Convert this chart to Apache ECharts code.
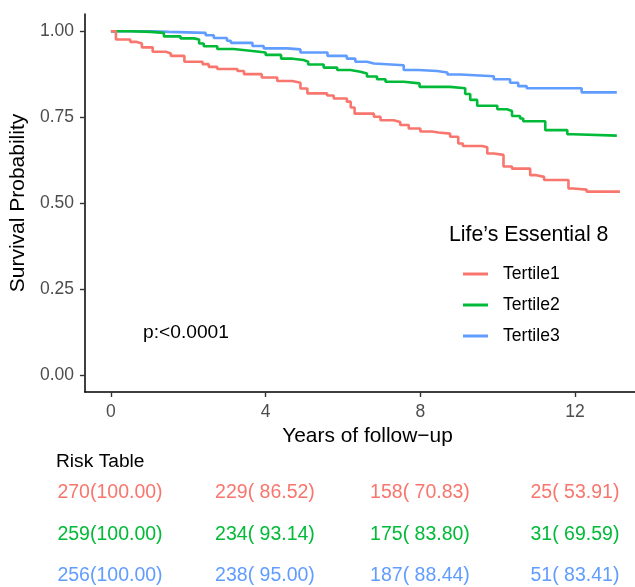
<!DOCTYPE html>
<html>
<head>
<meta charset="utf-8">
<script src="https://cdn.jsdelivr.net/npm/echarts@6/dist/echarts.min.js"></script>
<style>html,body{margin:0;padding:0;background:#fff}#c{width:635px;height:587px}</style>
</head>
<body>
<div id="c"></div>
<script>
// ---- Data ----
const groups = ['Tertile1', 'Tertile2', 'Tertile3'];
const colors = ['#F8766D', '#00BA38', '#619CFF'];

const t1Time = [0, 0.13, 0.5, 0.65, 0.8, 1.08, 1.42, 1.55, 1.9, 2.37, 2.53, 2.75, 3.27, 3.44, 3.9, 4.3, 4.69, 4.9, 5.08, 5.59, 5.76, 6.1, 6.2, 6.3, 6.8, 6.97, 7.31, 7.48, 7.7, 8.0, 8.3, 8.47, 8.77, 8.98, 9.1, 9.6, 9.73, 9.9, 10.15, 10.37, 10.84, 11.0, 11.2, 11.83, 11.95, 12.3, 13.16];
const t1Surv = [1.0, 0.976, 0.969, 0.964, 0.953, 0.94, 0.935, 0.928, 0.911, 0.904, 0.896, 0.89, 0.884, 0.875, 0.865, 0.855, 0.85, 0.833, 0.819, 0.813, 0.804, 0.795, 0.778, 0.76, 0.751, 0.741, 0.736, 0.727, 0.717, 0.708, 0.705, 0.702, 0.693, 0.673, 0.666, 0.662, 0.644, 0.64, 0.606, 0.60, 0.581, 0.576, 0.567, 0.542, 0.539, 0.533, 0.533];

const t2Time = [0, 0.5, 1.03, 1.37, 1.8, 2.15, 2.28, 2.4, 2.75, 3.17, 3.6, 4.0, 4.4, 4.7, 4.98, 5.1, 5.5, 5.85, 6.19, 6.45, 6.62, 6.88, 7.1, 7.57, 7.98, 8.77, 9.16, 9.29, 9.47, 9.99, 10.24, 10.37, 10.58, 10.66, 11.23, 11.8, 11.95, 13.08];
const t2Surv = [1.0, 0.998, 0.995, 0.985, 0.979, 0.976, 0.964, 0.956, 0.948, 0.943, 0.938, 0.931, 0.92, 0.916, 0.911, 0.903, 0.894, 0.887, 0.882, 0.877, 0.868, 0.86, 0.853, 0.848, 0.838, 0.834, 0.817, 0.80, 0.783, 0.773, 0.768, 0.753, 0.746, 0.738, 0.712, 0.70, 0.696, 0.696];

const t3Time = [0, 1.03, 1.5, 2.45, 2.66, 3.0, 3.1, 3.66, 3.95, 4.56, 4.9, 5.6, 6.1, 6.32, 6.62, 6.8, 7.57, 7.95, 8.43, 8.7, 9.03, 9.9, 10.32, 10.53, 10.75, 12.17, 13.08];
const t3Surv = [1.0, 0.998, 0.995, 0.988, 0.98, 0.972, 0.966, 0.957, 0.95, 0.947, 0.938, 0.928, 0.92, 0.911, 0.906, 0.901, 0.887, 0.884, 0.88, 0.874, 0.869, 0.86, 0.85, 0.84, 0.834, 0.822, 0.822];

const xTicks = [0, 4, 8, 12];
const yTicks = [0, 0.25, 0.5, 0.75, 1.0];

const riskTimes = [0, 4, 8, 12];
const risk1N = [270, 229, 158, 25];
const risk1Pct = [100.00, 86.52, 70.83, 53.91];
const risk2N = [259, 234, 175, 31];
const risk2Pct = [100.00, 93.14, 83.80, 69.59];
const risk3N = [256, 238, 187, 51];
const risk3Pct = [100.00, 95.00, 88.44, 83.41];

const pText = 'p:<0.0001';
const legendTitle = 'Life\u2019s Essential 8';

// ---- Build ----
const FONT = 'Liberation Sans';
const times = [t1Time, t2Time, t3Time];
const survs = [t1Surv, t2Surv, t3Surv];
const riskN = [risk1N, risk2N, risk3N];
const riskPct = [risk1Pct, risk2Pct, risk3Pct];

const xMin = -0.671, xMax = 13.55;

const series = [];
groups.forEach((g, i) => {
  series.push({
    name: g, type: 'line', step: 'end', showSymbol: false, symbol: 'none',
    xAxisIndex: 0, yAxisIndex: 0,
    lineStyle: { color: colors[i], width: 2.6 },
    itemStyle: { color: colors[i] },
    data: times[i].map((t, k) => [t, survs[i][k]]),
    silent: true, z: 3 - i
  });
});
groups.forEach((g, i) => {
  series.push({
    name: 'risk_' + g, type: 'scatter', xAxisIndex: 1, yAxisIndex: 1,
    symbolSize: 1, itemStyle: { color: 'rgba(255,255,255,0)', opacity: 1 }, silent: true,
    data: riskTimes.map((t, k) => [t, g, riskN[i][k], riskPct[i][k]]),
    label: {
      show: true, position: 'inside', color: colors[i], opacity: 1,
      fontFamily: FONT, fontSize: 19.5,
      formatter: p => p.data[2] + '(' + p.data[3].toFixed(2).padStart(6, ' ') + ')'
    }
  });
});

const chart = echarts.init(document.getElementById('c'), null, { renderer: 'canvas' });
chart.setOption({
  animation: false,
  backgroundColor: '#fff',
  textStyle: { fontFamily: FONT },
  grid: [
    { left: 84, right: 0, top: 14, height: 378, containLabel: false },
    { left: 84, right: 0, top: 493, height: 83, containLabel: false }
  ],
  title: [
    { text: legendTitle, left: 449, top: 225, padding: 0,
      textStyle: { fontFamily: FONT, fontSize: 21.3, fontWeight: 'normal', color: '#000' } },
    { text: 'Risk Table', left: 56, top: 452, padding: 0,
      textStyle: { fontFamily: FONT, fontSize: 19.2, fontWeight: 'normal', color: '#000' } }
  ],
  legend: {
    data: groups, orient: 'vertical', left: 463, top: 265, padding: 0,
    icon: 'rect', itemWidth: 25, itemHeight: 3, itemGap: 13,
    textStyle: { fontFamily: FONT, fontSize: 17.6, color: '#000', padding: [0, 0, 0, 10] },
    selectedMode: false
  },
  graphic: [
    { type: 'text', left: 143, top: 323,
      style: { text: pText, fontFamily: FONT, fontSize: 19.2, fill: '#000' } }
  ],
  xAxis: [
    { type: 'value', gridIndex: 0, min: xMin, max: xMax,
      name: 'Years of follow\u2212up', nameLocation: 'middle', nameGap: 29,
      nameTextStyle: { fontFamily: FONT, fontSize: 20.9, color: '#000', padding: [0, 0, 0, 15] },
      axisLine: { show: true, onZero: false, lineStyle: { color: '#000', width: 1.5 } },
      axisTick: { show: true, length: 5, customValues: xTicks, lineStyle: { color: '#333', width: 1.4 } },
      axisLabel: { customValues: xTicks, margin: 11, fontFamily: FONT, fontSize: 17.5, color: '#4D4D4D',
        formatter: v => String(v) },
      splitLine: { show: false }
    },
    { type: 'value', gridIndex: 1, min: xMin, max: xMax, show: false, splitLine: { show: false } }
  ],
  yAxis: [
    { type: 'value', gridIndex: 0, min: -0.05, max: 1.05,
      name: 'Survival Probability', nameLocation: 'middle', nameGap: 44, nameRotate: 90,
      nameTextStyle: { fontFamily: FONT, fontSize: 21, color: '#000' },
      axisLine: { show: true, onZero: false, lineStyle: { color: '#000', width: 1.5 } },
      axisTick: { show: true, length: 5, customValues: yTicks, lineStyle: { color: '#333', width: 1.4 } },
      axisLabel: { customValues: yTicks, margin: 11, fontFamily: FONT, fontSize: 17.5, color: '#4D4D4D',
        formatter: v => v.toFixed(2) },
      splitLine: { show: false }
    },
    { type: 'category', gridIndex: 1, data: groups, inverse: true, boundaryGap: false, show: false }
  ],
  series: series
});
</script>
</body>
</html>
